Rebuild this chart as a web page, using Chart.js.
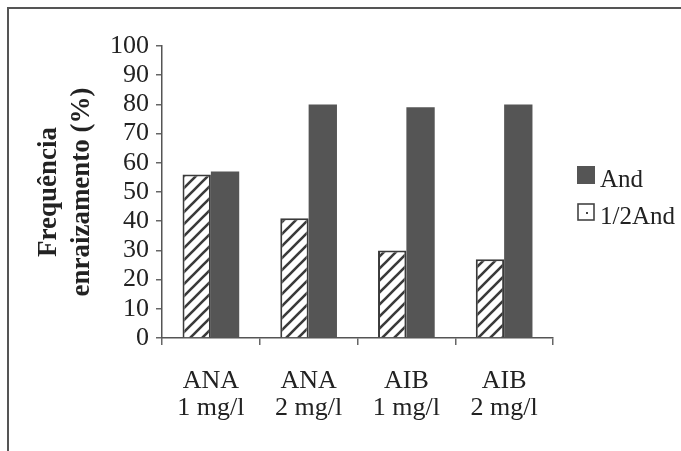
<!DOCTYPE html>
<html>
<head>
<meta charset="utf-8">
<script src="https://cdn.jsdelivr.net/npm/chart.js@4/dist/chart.umd.min.js"></script>
<style>
  html, body { margin: 0; padding: 0; background: #fff; }
  #wrap { width: 681px; height: 451px; }
</style>
</head>
<body>
<div id="wrap"><canvas id="chart" width="681" height="451"></canvas></div>
<script>
// categorias e valores
const categorias = [["ANA", "1 mg/l"], ["ANA", "2 mg/l"], ["AIB", "1 mg/l"], ["AIB", "2 mg/l"]];
const meiaAnd = [56, 41, 30, 27];
const andValores = [57, 80, 79, 80];
const serieNomes = ["1/2And", "And"];
const yTicks = [0, 10, 20, 30, 40, 50, 60, 70, 80, 90, 100];

const escuro = "#555555";
const texto = "#222222";
const fonte = "'Liberation Serif', 'Times New Roman', serif";

function hachura() {
    const c = document.createElement("canvas");
    c.width = 12; c.height = 12;
    const g = c.getContext("2d");
    g.fillStyle = "#fff";
    g.fillRect(0, 0, 12, 12);
    g.strokeStyle = "#3a3a3a";
    g.lineWidth = 2.6;
    g.beginPath();
    g.moveTo(-3, 15); g.lineTo(15, -3);
    g.moveTo(-9, 9); g.lineTo(9, -9);
    g.moveTo(3, 21); g.lineTo(21, 3);
    g.stroke();
    return g.createPattern(c, "repeat");
}

// moldura e legenda
const extras = {
    id: "extras",
    afterDraw(chart) {
        const ctx = chart.ctx;
        ctx.save();
        ctx.strokeStyle = "#555";
        ctx.lineWidth = 2;
        ctx.beginPath();
        ctx.moveTo(8, 451); ctx.lineTo(8, 8); ctx.lineTo(681, 8);
        ctx.stroke();

        // legenda
        ctx.fillStyle = escuro;
        ctx.fillRect(577, 166, 18, 18);
        ctx.fillStyle = "#fff";
        ctx.fillRect(578, 204, 16, 16);
        ctx.strokeStyle = "#444";
        ctx.lineWidth = 1.6;
        ctx.strokeRect(578, 204, 16, 16);
        ctx.fillStyle = "#444";
        ctx.fillRect(586, 212, 2, 2);
        ctx.fillStyle = texto;
        ctx.font = "25px " + fonte;
        ctx.textBaseline = "alphabetic";
        ctx.textAlign = "left";
        ctx.fillText(serieNomes[1], 600, 187);
        ctx.fillText(serieNomes[0], 600, 224);
        ctx.restore();
    }
};

new Chart(document.getElementById("chart"), {
    type: "bar",
    data: {
        labels: categorias,
        datasets: [
            {
                label: serieNomes[0],
                data: meiaAnd,
                backgroundColor: hachura(),
                borderColor: "#3a3a3a",
                borderWidth: 2,
                barPercentage: 1.0,
                categoryPercentage: 0.58
            },
            {
                label: serieNomes[1],
                data: andValores,
                backgroundColor: escuro,
                borderWidth: 0,
                barPercentage: 1.0,
                categoryPercentage: 0.58
            }
        ]
    },
    options: {
        responsive: false,
        animation: false,
        layout: { padding: { left: 0, top: 46, right: 128, bottom: 0 } },
        plugins: {
            legend: { display: false },
            tooltip: { enabled: false }
        },
        scales: {
            x: {
                grid: {
                    display: true,
                    offset: true,
                    drawOnChartArea: false,
                    color: "#666",
                    tickLength: 7,
                    lineWidth: 1.5
                },
                border: { display: true, color: "#555", width: 1.5 },
                ticks: {
                    color: texto,
                    padding: 23,
                    maxRotation: 0,
                    autoSkip: false,
                    font: { family: fonte, size: 26, lineHeight: 1.02 }
                },
                afterFit(s) { s.height = 113; }
            },
            y: {
                min: 0,
                max: 100,
                afterBuildTicks(s) { s.ticks = yTicks.map(v => ({ value: v })); },
                grid: {
                    display: true,
                    drawOnChartArea: false,
                    color: "#666",
                    tickLength: 6,
                    lineWidth: 1.5
                },
                border: { display: true, color: "#555", width: 1.5 },
                ticks: {
                    color: texto,
                    padding: 7,
                    autoSkip: false,
                    font: { family: fonte, size: 26 }
                },
                title: {
                    display: true,
                    text: ["Frequência", "enraizamento (%)"],
                    color: texto,
                    padding: { top: 33, bottom: 0 },
                    font: { family: fonte, size: 27, weight: "bold", lineHeight: 1.2 }
                },
                afterFit(s) { s.width = 162; }
            }
        }
    },
    plugins: [extras]
});
</script>
</body>
</html>
